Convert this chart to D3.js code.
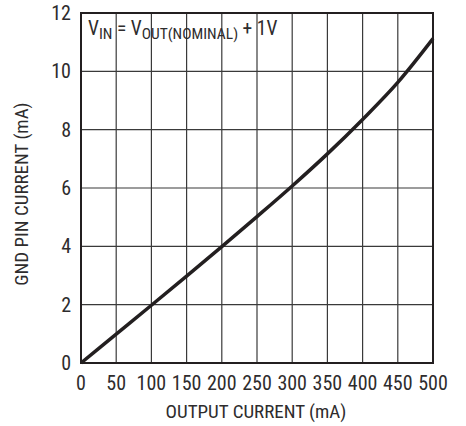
<!DOCTYPE html>
<html><head><meta charset="utf-8">
<script src="https://cdn.jsdelivr.net/npm/d3@7"></script>
<style>body{margin:0;background:#fff}text{font-family:"Liberation Sans Narrow","Roboto Condensed","Arial Narrow",sans-serif;fill:#2e2c2d}</style>
</head><body><svg id="c" width="466" height="426"></svg>
<script>
const xTicks=[0,50,100,150,200,250,300,350,400,450,500];
const yTicks=[0,2,4,6,8,10,12];
const outputCurrent=[0,50,100,150,200,250,300,350,400,450,500];
const gndCurrent=[0,0.99,1.98,2.98,3.99,5.02,6.07,7.17,8.35,9.62,11.12];
const svg=d3.select("#c");
const m={l:81,t:13,r:433,b:363};
const x=d3.scaleLinear().domain([0,500]).range([m.l,m.r]);
const y=d3.scaleLinear().domain([0,12]).range([m.b,m.t]);
const g=svg.append("g");
g.selectAll(".vx").data(xTicks.slice(1,-1)).join("line").attr("x1",d=>x(d)).attr("x2",d=>x(d)).attr("y1",m.t).attr("y2",m.b).attr("stroke","#3a3a3a").attr("stroke-width",1.2);
g.selectAll(".hy").data(yTicks.slice(1,-1)).join("line").attr("y1",d=>y(d)).attr("y2",d=>y(d)).attr("x1",m.l).attr("x2",m.r).attr("stroke","#3a3a3a").attr("stroke-width",1.2);
g.append("rect").attr("x",m.l).attr("y",m.t).attr("width",m.r-m.l).attr("height",m.b-m.t).attr("fill","none").attr("stroke","#231f20").attr("stroke-width",2);
const line=d3.line().x((d,i)=>x(outputCurrent[i])).y(d=>y(d)).curve(d3.curveMonotoneX);
g.append("path").datum(gndCurrent).attr("d",line).attr("fill","none").attr("stroke","#231f20").attr("stroke-width",3.5);
svg.selectAll(".xl").data(xTicks).join("text").attr("x",d=>x(d)).attr("y",390).attr("text-anchor","middle").attr("font-size",20).text(d=>d);
svg.selectAll(".yl").data(yTicks).join("text").attr("x",71).attr("y",d=>y(d)+7).attr("text-anchor","end").attr("font-size",20).text(d=>d);
svg.append("text").attr("x",256).attr("y",418).attr("text-anchor","middle").attr("font-size",19).text("OUTPUT CURRENT (mA)");
svg.append("text").attr("transform",`translate(28,194) rotate(-90)`).attr("text-anchor","middle").attr("font-size",19).text("GND PIN CURRENT (mA)");
const t=svg.append("text").attr("x",88).attr("y",35).attr("font-size",19.5);
t.append("tspan").text("V");
t.append("tspan").attr("font-size",15.5).attr("dy",4).text("IN");
t.append("tspan").attr("dy",-4).text(" = V");
t.append("tspan").attr("font-size",15.5).attr("dy",4).text("OUT(NOMINAL)");
t.append("tspan").attr("dy",-4).text(" + 1V");
</script></body></html>
